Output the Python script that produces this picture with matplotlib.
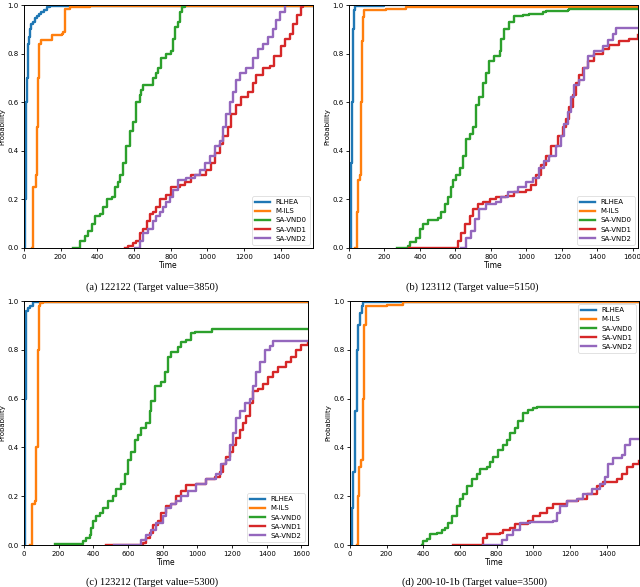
import matplotlib
matplotlib.use("Agg")
import matplotlib.pyplot as plt

labels = ["RLHEA", "M-ILS", "SA-VND0", "SA-VND1", "SA-VND2"]
colors = ["#1f77b4", "#ff7f0e", "#2ca02c", "#d62728", "#9467bd"]

# ---------------- panel (a) 122122 ----------------
a_rlhea_t = [5, 8, 10, 13, 15, 20, 25, 30, 40, 50, 60, 70, 80, 90, 110, 125, 140, 1575]
a_rlhea_p = [0, 0.2, 0.4, 0.6, 0.7, 0.84, 0.87, 0.9, 0.92, 0.93, 0.945, 0.955, 0.965, 0.97, 0.98, 0.99, 0.995, 0.995]
a_mils_t = [42, 48, 51, 65, 68, 72, 76, 80, 83, 90, 141, 150, 205, 215, 223, 250, 360, 1575]
a_mils_p = [0, 0.1, 0.25, 0.25, 0.3, 0.5, 0.7, 0.8, 0.84, 0.855, 0.855, 0.875, 0.88, 0.89, 0.985, 0.99, 0.995, 0.995]
a_v0_t = [268, 305, 330, 350, 370, 386, 413, 432, 450, 477, 495, 510, 522, 540, 558, 577, 595, 613, 630, 640, 650, 695, 704, 720, 731, 749, 776, 803, 812, 821, 840, 849, 863, 876]
a_v0_p = [0, 0.03, 0.05, 0.07, 0.1, 0.13, 0.14, 0.17, 0.2, 0.21, 0.25, 0.27, 0.3, 0.35, 0.42, 0.48, 0.52, 0.6, 0.63, 0.65, 0.67, 0.67, 0.7, 0.72, 0.74, 0.78, 0.8, 0.81, 0.86, 0.91, 0.93, 0.97, 0.99, 1.0]
a_v1_t = [550, 568, 595, 613, 631, 650, 668, 686, 704, 722, 740, 776, 803, 849, 876, 912, 975, 994, 1021, 1040, 1066, 1084, 1112, 1130, 1157, 1184, 1220, 1248, 1266, 1302, 1339, 1365, 1402, 1420, 1447, 1465, 1489, 1511, 1520]
a_v1_p = [0, 0.01, 0.02, 0.03, 0.06, 0.08, 0.11, 0.14, 0.15, 0.17, 0.2, 0.22, 0.25, 0.26, 0.27, 0.3, 0.3, 0.32, 0.35, 0.39, 0.43, 0.46, 0.5, 0.55, 0.59, 0.62, 0.64, 0.68, 0.71, 0.74, 0.75, 0.79, 0.83, 0.86, 0.88, 0.92, 0.96, 0.99, 1.0]
a_v2_t = [604, 631, 650, 676, 704, 722, 740, 758, 776, 794, 812, 840, 885, 930, 957, 985, 1012, 1040, 1066, 1084, 1102, 1120, 1139, 1157, 1175, 1212, 1248, 1275, 1302, 1329, 1356, 1375, 1393, 1420]
a_v2_p = [0, 0.03, 0.06, 0.08, 0.11, 0.13, 0.15, 0.17, 0.19, 0.21, 0.24, 0.28, 0.29, 0.3, 0.32, 0.35, 0.38, 0.42, 0.44, 0.5, 0.55, 0.6, 0.64, 0.69, 0.72, 0.74, 0.78, 0.82, 0.84, 0.87, 0.9, 0.94, 0.97, 1.0]

# ---------------- panel (b) 123112 ----------------
b_rlhea_t = [5, 10, 15, 20, 28, 35, 200, 1630]
b_rlhea_p = [0, 0.35, 0.6, 0.9, 0.98, 0.995, 0.998, 0.998]
b_mils_t = [36, 43, 50, 64, 70, 75, 80, 83, 210, 323, 585, 1630]
b_mils_p = [0, 0.15, 0.28, 0.3, 0.6, 0.85, 0.95, 0.98, 0.985, 0.99, 0.993, 0.993]
b_v0_t = [270, 332, 342, 380, 398, 417, 445, 500, 520, 539, 558, 576, 586, 605, 624, 642, 661, 680, 699, 717, 736, 755, 774, 792, 820, 849, 858, 877, 905, 933, 980, 1018, 1093, 1112, 1234, 1243, 1630]
b_v0_p = [0, 0.01, 0.025, 0.04, 0.08, 0.1, 0.115, 0.125, 0.15, 0.18, 0.21, 0.25, 0.28, 0.3, 0.33, 0.38, 0.45, 0.47, 0.5, 0.59, 0.62, 0.68, 0.72, 0.77, 0.79, 0.81, 0.86, 0.9, 0.93, 0.955, 0.96, 0.965, 0.97, 0.975, 0.98, 0.985, 0.985]
b_v1_t = [338, 595, 614, 633, 652, 680, 699, 727, 755, 793, 830, 887, 933, 999, 1027, 1055, 1083, 1112, 1140, 1177, 1206, 1224, 1243, 1262, 1281, 1299, 1318, 1347, 1384, 1431, 1469, 1525, 1581, 1628]
b_v1_p = [0, 0, 0.03, 0.06, 0.1, 0.13, 0.16, 0.18, 0.19, 0.2, 0.21, 0.215, 0.23, 0.24, 0.26, 0.3, 0.34, 0.38, 0.42, 0.46, 0.5, 0.53, 0.58, 0.63, 0.68, 0.71, 0.74, 0.77, 0.8, 0.82, 0.835, 0.85, 0.86, 0.875]
b_v2_t = [633, 661, 689, 708, 736, 774, 830, 858, 896, 952, 999, 1036, 1074, 1102, 1130, 1168, 1196, 1215, 1234, 1253, 1271, 1299, 1328, 1347, 1384, 1431, 1459, 1487, 1506, 1630]
b_v2_p = [0, 0.04, 0.07, 0.12, 0.16, 0.18, 0.19, 0.21, 0.23, 0.25, 0.27, 0.29, 0.33, 0.36, 0.38, 0.42, 0.46, 0.51, 0.56, 0.62, 0.67, 0.69, 0.74, 0.79, 0.81, 0.83, 0.855, 0.88, 0.905, 0.905]

# ---------------- panel (c) 123212 ----------------
c_rlhea_t = [4, 8, 13, 23, 33, 52, 1638]
c_rlhea_p = [0, 0.6, 0.96, 0.97, 0.98, 0.995, 0.995]
c_mils_t = [33, 46, 62, 70, 78, 85, 94, 110, 1638]
c_mils_p = [0, 0.17, 0.18, 0.4, 0.8, 0.98, 0.99, 0.995, 0.995]
c_v0_t = [177, 340, 356, 379, 388, 398, 417, 437, 456, 485, 513, 533, 562, 581, 600, 619, 638, 658, 677, 706, 725, 735, 754, 792, 812, 831, 850, 888, 908, 937, 965, 985, 1085, 1638]
c_v0_p = [0.005, 0.015, 0.03, 0.04, 0.07, 0.1, 0.12, 0.13, 0.15, 0.18, 0.2, 0.23, 0.25, 0.29, 0.35, 0.38, 0.43, 0.45, 0.48, 0.5, 0.55, 0.59, 0.65, 0.67, 0.71, 0.77, 0.79, 0.81, 0.83, 0.84, 0.87, 0.875, 0.885, 0.885]
c_v1_t = [471, 687, 706, 725, 744, 773, 792, 821, 850, 879, 908, 937, 994, 1052, 1100, 1129, 1148, 1167, 1187, 1206, 1225, 1244, 1263, 1283, 1302, 1321, 1350, 1379, 1408, 1437, 1465, 1513, 1542, 1571, 1600, 1638]
c_v1_p = [0, 0.01, 0.03, 0.05, 0.08, 0.1, 0.13, 0.16, 0.17, 0.2, 0.22, 0.245, 0.25, 0.27, 0.28, 0.3, 0.33, 0.36, 0.38, 0.41, 0.44, 0.47, 0.5, 0.53, 0.58, 0.63, 0.64, 0.66, 0.69, 0.71, 0.73, 0.75, 0.77, 0.8, 0.82, 0.83]
c_v2_t = [520, 667, 677, 706, 735, 763, 802, 821, 850, 879, 908, 946, 994, 1052, 1110, 1138, 1167, 1187, 1206, 1225, 1244, 1273, 1302, 1321, 1340, 1360, 1388, 1417, 1437, 1638]
c_v2_p = [0, 0, 0.02, 0.04, 0.06, 0.09, 0.12, 0.15, 0.17, 0.18, 0.2, 0.22, 0.25, 0.27, 0.29, 0.33, 0.35, 0.41, 0.46, 0.52, 0.55, 0.58, 0.6, 0.65, 0.71, 0.75, 0.8, 0.815, 0.835, 0.835]

# ---------------- panel (d) 200-10-1b ----------------
d_rlhea_t = [5, 12, 18, 27, 36, 45, 55, 64, 73, 1576]
d_rlhea_p = [0, 0.15, 0.3, 0.55, 0.8, 0.9, 0.95, 0.98, 0.995, 0.995]
d_mils_t = [36, 44, 51, 60, 69, 78, 87, 200, 291, 1576]
d_mils_p = [0, 0.2, 0.32, 0.35, 0.6, 0.9, 0.98, 0.985, 0.995, 0.995]
d_v0_t = [391, 400, 418, 436, 473, 500, 518, 536, 555, 582, 600, 618, 636, 664, 691, 709, 745, 764, 782, 809, 836, 855, 873, 900, 918, 945, 973, 1000, 1020, 1576]
d_v0_p = [0, 0.015, 0.025, 0.045, 0.05, 0.06, 0.07, 0.09, 0.12, 0.16, 0.19, 0.21, 0.24, 0.27, 0.29, 0.31, 0.32, 0.34, 0.36, 0.39, 0.41, 0.43, 0.46, 0.48, 0.51, 0.54, 0.555, 0.56, 0.565, 0.565]
d_v1_t = [564, 709, 727, 745, 818, 836, 873, 900, 973, 1000, 1036, 1073, 1109, 1182, 1245, 1291, 1345, 1382, 1455, 1482, 1509, 1545, 1576]
d_v1_p = [0, 0, 0.03, 0.045, 0.05, 0.06, 0.07, 0.085, 0.1, 0.12, 0.13, 0.15, 0.17, 0.18, 0.19, 0.21, 0.24, 0.26, 0.27, 0.29, 0.32, 0.33, 0.345]
d_v2_t = [727, 809, 827, 855, 891, 927, 982, 1109, 1127, 1145, 1182, 1236, 1273, 1318, 1364, 1391, 1409, 1436, 1482, 1500, 1527, 1576]
d_v2_p = [0, 0, 0.02, 0.04, 0.06, 0.09, 0.095, 0.1, 0.13, 0.16, 0.18, 0.19, 0.21, 0.23, 0.25, 0.28, 0.33, 0.355, 0.37, 0.41, 0.435, 0.435]

panels = [
    dict(pos=[24/640, 1-248/587, 289/640, 243/587], xmax=1575, xticks=[0, 200, 400, 600, 800, 1000, 1200, 1400],
         series=[(a_rlhea_t, a_rlhea_p), (a_mils_t, a_mils_p), (a_v0_t, a_v0_p), (a_v1_t, a_v1_p), (a_v2_t, a_v2_p)],
         loc="lower right", caption="(a) 122122 (Target value=3850)", cap_xy=(152, 287)),
    dict(pos=[349/640, 1-248/587, 289/640, 243/587], xmax=1630, xticks=[0, 200, 400, 600, 800, 1000, 1200, 1400, 1600],
         series=[(b_rlhea_t, b_rlhea_p), (b_mils_t, b_mils_p), (b_v0_t, b_v0_p), (b_v1_t, b_v1_p), (b_v2_t, b_v2_p)],
         loc="lower right", caption="(b) 123112 (Target value=5150)", cap_xy=(472, 287)),
    dict(pos=[24/640, 1-545/587, 284/640, 244/587], xmax=1638, xticks=[0, 200, 400, 600, 800, 1000, 1200, 1400, 1600],
         series=[(c_rlhea_t, c_rlhea_p), (c_mils_t, c_mils_p), (c_v0_t, c_v0_p), (c_v1_t, c_v1_p), (c_v2_t, c_v2_p)],
         loc="lower right", caption="(c) 123212 (Target value=5300)", cap_xy=(152, 582)),
    dict(pos=[350/640, 1-545/587, 289/640, 244/587], xmax=1576, xticks=[0, 200, 400, 600, 800, 1000, 1200, 1400],
         series=[(d_rlhea_t, d_rlhea_p), (d_mils_t, d_mils_p), (d_v0_t, d_v0_p), (d_v1_t, d_v1_p), (d_v2_t, d_v2_p)],
         loc="upper right", caption="(d) 200-10-1b (Target value=3500)", cap_xy=(474, 582)),
]

fig = plt.figure(figsize=(6.4, 5.87), dpi=100)
for p in panels:
    ax = fig.add_axes(p["pos"])
    for (t, pr), lab, col in zip(p["series"], labels, colors):
        ax.plot(t, pr, drawstyle="steps-post", color=col, lw=1.7, label=lab)
    ax.set_xlim(0, p["xmax"])
    ax.set_ylim(0, 1.0)
    ax.set_xticks(p["xticks"])
    ax.set_yticks([0.0, 0.2, 0.4, 0.6, 0.8, 1.0])
    ax.tick_params(labelsize=5, length=2.5, width=0.6, pad=1.5)
    for s in ax.spines.values():
        s.set_linewidth(0.7)
    ax.set_xlabel("Time", fontsize=5.5, labelpad=1)
    ax.set_ylabel("Probability", fontsize=5, labelpad=1)
    leg = ax.legend(loc=p["loc"], fontsize=5, handlelength=2.2, borderaxespad=0.5,
                    labelspacing=0.45, framealpha=1.0, edgecolor="#dddddd", fancybox=True)
    leg.get_frame().set_linewidth(0.6)
    fig.text(p["cap_xy"][0]/640, 1-p["cap_xy"][1]/587, p["caption"], ha="center", va="center",
             fontsize=7.5, family="Liberation Serif")

fig.savefig("out.png", dpi=100)
